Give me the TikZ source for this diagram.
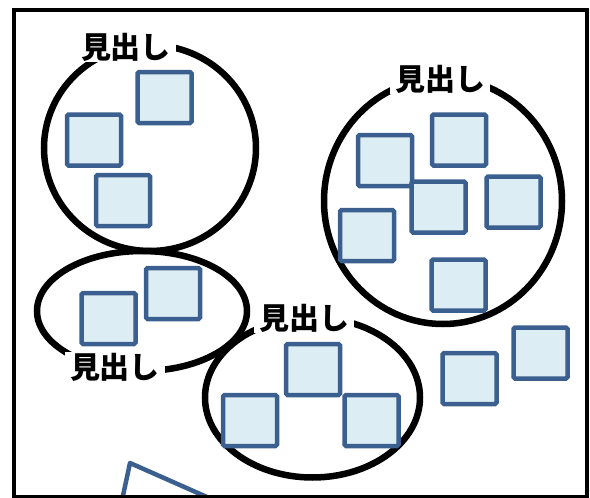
\documentclass[tikz,border=0pt]{standalone}
\usepackage{fontspec}
\newfontfamily\jpfont{Noto Sans CJK JP}
\definecolor{sqfill}{HTML}{DCEDF3}
\definecolor{sqline}{HTML}{3B5F8F}
\tikzset{
  sq/.style={draw=sqline, fill=sqfill, line width=4.5pt, rounded corners=1.5pt,
    minimum width=54pt, minimum height=51pt, inner sep=0pt},
  grp/.style={draw=black, line width=6.5pt},
  lbl/.style={fill=white, inner xsep=5pt, inner ysep=1pt,
    font=\jpfont\bfseries\fontsize{30}{32}\selectfont},
  frame/.style={draw=black, line width=4pt}
}
\begin{document}
\begin{tikzpicture}[x=1pt,y=-1pt]
\useasboundingbox (0,0) rectangle (590,498);
\clip (0,0) rectangle (590,498);
% groups
\draw[grp] (150,148) ellipse [x radius=106, y radius=103];
\draw[grp] (443,201) ellipse [x radius=119, y radius=123];
\draw[grp] (142,311) ellipse [x radius=105, y radius=60];
\draw[grp] (312.5,397.5) ellipse [x radius=107.5, y radius=80];
% squares
\node[sq] (s1) at (164.5,97.5) {};
\node[sq] (s2) at (94,140) {};
\node[sq] (s3) at (123,200.5) {};
\node[sq] (s4) at (385,160.5) {};
\node[sq] (s5) at (459,140) {};
\node[sq] (s6) at (438.5,207) {};
\node[sq] (s7) at (513.5,202) {};
\node[sq] (s8) at (367,235.5) {};
\node[sq] (s9) at (458.5,285) {};
\node[sq] (s10) at (173,293.5) {};
\node[sq] (s11) at (108.5,318.5) {};
\node[sq] (s12) at (313,369.5) {};
\node[sq] (s13) at (250,420.5) {};
\node[sq] (s14) at (371.5,420.5) {};
\node[sq] (s15) at (469.5,378.5) {};
\node[sq] (s16) at (540.5,353) {};
% partial shape at bottom
\coordinate (p1) at (121,505);
\coordinate (p2) at (130,463);
\coordinate (p3) at (225,505);
\draw[draw=sqline, line width=4.5pt, line join=round] (p1) -- (p2) -- (p3);
% labels
\node[lbl] (l1) at (126,47) {見出し};
\node[lbl] (l2) at (440,79) {見出し};
\node[lbl] (l3) at (304,318) {見出し};
\node[lbl] (l4) at (115,367) {見出し};
% frame
\draw[frame] (14,10) rectangle (587,497);
\end{tikzpicture}
\end{document}
